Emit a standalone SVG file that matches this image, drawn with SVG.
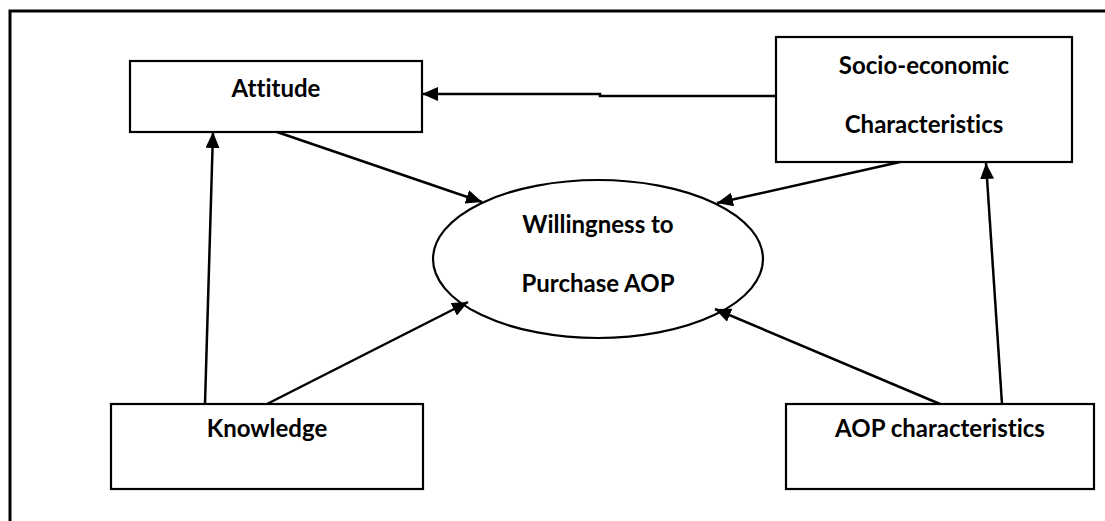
<svg xmlns="http://www.w3.org/2000/svg" width="1105" height="521" viewBox="0 0 1105 521">
<style>
.box{fill:#fff;stroke:#000;stroke-width:2.2}
.lbl{font-family:Lato,"Open Sans",sans-serif;font-weight:bold;font-size:24px;fill:#000;text-anchor:middle;font-variant-ligatures:none}
.con{fill:none;stroke:#000;stroke-width:2.5}
</style>
<defs>
<marker id="ah" markerUnits="userSpaceOnUse" markerWidth="16" markerHeight="14" refX="16" refY="7" orient="auto">
<path d="M0,0 L16,7 L0,14 z" fill="#000"/>
</marker>
</defs>
<rect width="1105" height="521" fill="#fff"/>
<path d="M10,521 V11 H1105" fill="none" stroke="#000" stroke-width="3"/>
<g id="attitude"><rect class="box" x="130" y="61" width="292" height="71"/><text class="lbl" x="276" y="97">Attitude</text></g>
<g id="socio"><rect class="box" x="776" y="37" width="296" height="125"/><text class="lbl" x="924" y="74">Socio-economic</text><text class="lbl" x="924" y="133">Characteristics</text></g>
<g id="willingness"><ellipse class="box" cx="598" cy="259" rx="165" ry="79"/><text class="lbl" x="598" y="233">Willingness to</text><text class="lbl" x="598" y="292">Purchase AOP</text></g>
<g id="knowledge"><rect class="box" x="111" y="404" width="312" height="85"/><text class="lbl" x="267" y="437">Knowledge</text></g>
<g id="aop"><rect class="box" x="786" y="404" width="308" height="85"/><text class="lbl" x="940" y="437">AOP characteristics</text></g>
<g id="connectors">
<path class="con" d="M776,96 H600 V94 H422" marker-end="url(#ah)"/>
<line class="con" x1="205" y1="404" x2="213" y2="132" marker-end="url(#ah)"/>
<line class="con" x1="277" y1="132" x2="482" y2="202" marker-end="url(#ah)"/>
<line class="con" x1="900" y1="162" x2="717" y2="203" marker-end="url(#ah)"/>
<line class="con" x1="267" y1="404" x2="468" y2="302" marker-end="url(#ah)"/>
<line class="con" x1="940" y1="404" x2="715" y2="309" marker-end="url(#ah)"/>
<line class="con" x1="1002" y1="404" x2="986" y2="163" marker-end="url(#ah)"/>
</g>
</svg>
